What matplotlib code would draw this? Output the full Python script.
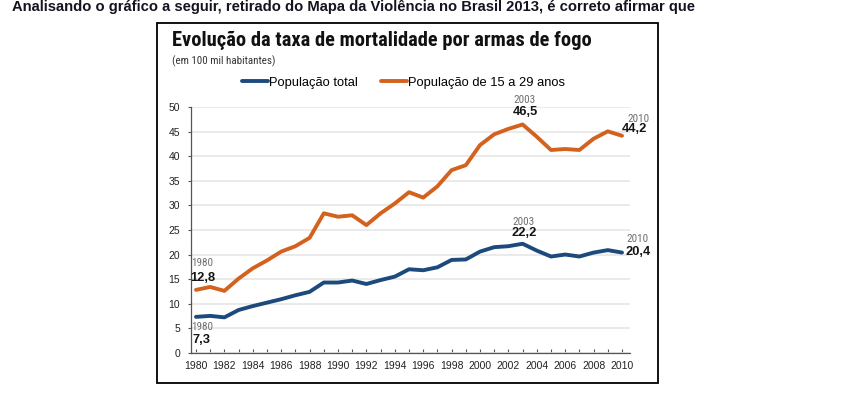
import matplotlib
matplotlib.use("Agg")
import matplotlib.pyplot as plt
from matplotlib import font_manager as fm
from matplotlib.font_manager import FontProperties
from matplotlib.patches import Rectangle

# ---------------- data ----------------
years = list(range(1980, 2011))
total = [7.3, 7.5, 7.2, 8.7, 9.5, 10.2, 10.9, 11.7, 12.4, 14.3, 14.3, 14.7, 14.0,
         14.8, 15.5, 17.0, 16.8, 17.4, 18.9, 19.0, 20.6, 21.5, 21.7, 22.2, 20.8,
         19.6, 20.0, 19.6, 20.4, 20.9, 20.4]
young = [12.8, 13.4, 12.6, 15.1, 17.2, 18.8, 20.6, 21.7, 23.4, 28.4, 27.7, 28.0,
         26.0, 28.4, 30.4, 32.7, 31.6, 33.9, 37.2, 38.2, 42.3, 44.5, 45.6, 46.5,
         44.0, 41.3, 41.5, 41.3, 43.6, 45.1, 44.2]
series_labels = ["População total", "População de 15 a 29 anos"]
highlight_years = [1980, 2003, 2010]
xtick_labels = [str(y) for y in range(1980, 2011, 2)]
yticks = list(range(0, 51, 5))

header = "Analisando o gráfico a seguir, retirado do Mapa da Violência no Brasil 2013, é correto afirmar que"
title = "Evolução da taxa de mortalidade por armas de fogo"
subtitle = "(em 100 mil habitantes)"

# ---------------- fonts ----------------
SANS = "Liberation Sans"


def condensed_font(bold):
    files = [f for f in fm.fontManager.ttflist]
    pref = ["liberation", "roboto", "dejavu", "noto", "open", ""]
    for p in pref:
        for f in files:
            fn = f.fname.lower()
            if p not in fn:
                continue
            if not ("narrow" in fn or "condensed" in fn or f.stretch in ("condensed", "semi-condensed")):
                continue
            if "italic" in fn or "oblique" in fn:
                continue
            isbold = ("bold" in fn) and ("semibold" not in fn)
            if isbold == bold:
                return FontProperties(fname=f.fname)
    return None


COND_B = condensed_font(True)
COND_R = condensed_font(False)
if COND_B is None:
    COND_B = FontProperties(family=SANS, weight="bold")
if COND_R is None:
    COND_R = FontProperties(family=SANS)

W, H = 850, 394
fig = plt.figure(figsize=(W / 100, H / 100), dpi=100)
fig.patch.set_facecolor("white")
renderer = fig.canvas.get_renderer()


def fx(px):
    return px / W


def fy(py):
    return 1 - py / H


def fit_width(t, target):
    for _ in range(3):
        w = t.get_window_extent(renderer).width
        t.set_fontsize(t.get_fontsize() * target / w)


BLUE = "#1d4a7c"
ORANGE = "#d4621f"

# header text
t = fig.text(fx(12), fy(10.5), header, family=SANS, weight="bold", fontsize=9,
             color="#141420", ha="left", va="baseline")
fit_width(t, 683)

# bordered box
fig.patches.append(Rectangle((fx(157), fy(383)), fx(658) - fx(157), fy(22.7) - fy(383),
                             transform=fig.transFigure, fill=False, edgecolor="black",
                             linewidth=1.3, zorder=0))

# title / subtitle
t = fig.text(fx(172.5), fy(46.5), title, fontproperties=COND_B.copy(),
             color="#111111", ha="left", va="baseline")
fit_width(t, 419)
t = fig.text(fx(172.5), fy(64), subtitle, fontproperties=COND_R.copy(), color="#333333",
             ha="left", va="baseline")
fit_width(t, 104)

# axes
x0, x1 = 1979.627, 2010.563
ax_left, ax_right = 190.7, 630
ax_bottom, ax_top = 352.7, 107.3
ax = fig.add_axes([fx(ax_left), fy(ax_bottom), fx(ax_right) - fx(ax_left),
                   fy(ax_top) - fy(ax_bottom)])
ax.set_facecolor("none")
ax.set_xlim(x0, x1)
ax.set_ylim(0, 50)

l_total, = ax.plot(years, total, color=BLUE, lw=2.8, solid_joinstyle="round",
                   solid_capstyle="round", label=series_labels[0], zorder=3, clip_on=False)
l_young, = ax.plot(years, young, color=ORANGE, lw=2.8, solid_joinstyle="round",
                   solid_capstyle="round", label=series_labels[1], zorder=3, clip_on=False)

for s in ["top", "right"]:
    ax.spines[s].set_visible(False)
for s in ["left", "bottom"]:
    ax.spines[s].set_color("#555555")
    ax.spines[s].set_linewidth(0.9)

ax.set_yticks(yticks)
ax.set_yticklabels([str(v) for v in yticks], family=SANS, fontsize=7.5, color="#222222")
ax.tick_params(axis="y", direction="out", length=2.5, width=0.8, color="#555555", pad=5)
ax.yaxis.grid(True, color="#e6e6e6", lw=1.2)
ax.set_axisbelow(True)

ax.set_xticks(list(range(1980, 2011, 2)))
ax.set_xticklabels(xtick_labels, family=SANS, fontsize=7.5, color="#222222")
ax.set_xticks(list(range(1981, 2011, 2)), minor=True)
ax.tick_params(axis="x", which="both", direction="in", length=3, width=0.8,
               color="#555555", pad=6)

# legend
ax.legend(handles=[l_total, l_young], labels=series_labels, loc="center left",
          bbox_to_anchor=(fx(241.7), fy(83)), bbox_transform=fig.transFigure,
          ncol=2, frameon=False, prop={"family": SANS, "size": 9.3},
          handlelength=2.0, handletextpad=0.1, columnspacing=1.8,
          borderpad=0, borderaxespad=0)

# highlight annotations (offsets in pixels: year label, value label, alignment)
layout = {
    ("young", 1980): ((6, 26.6, "center"), (6.5, 11.6, "center")),
    ("total", 1980): ((6, -10.4, "center"), (6, -23, "center")),
    ("young", 2003): ((2.4, 24.4, "center"), (2.4, 12.7, "center")),
    ("total", 2003): ((1.4, 22.0, "center"), (1.4, 10.7, "center")),
    ("young", 2010): ((5, 16.5, "left"), (0, 6.4, "left")),
    ("total", 2010): ((4.7, 14.0, "left"), (3, 0.3, "left")),
}
data = {"young": young, "total": total}
for key, vals in data.items():
    for yr in highlight_years:
        v = vals[years.index(yr)]
        (yx, yy, yha), (vx, vy, vha) = layout[(key, yr)]
        yfp = COND_R.copy()
        yfp.set_size(8)
        ax.annotate(str(yr), (yr, v), xytext=(yx, yy), textcoords="offset pixels",
                    ha=yha, va="center", fontproperties=yfp, color="#6f6f6f",
                    annotation_clip=False, zorder=5)
        ax.annotate(f"{v:.1f}".replace(".", ","), (yr, v), xytext=(vx, vy),
                    textcoords="offset pixels", ha=vha, va="center", family=SANS,
                    weight="bold", fontsize=9.3, color="#141414",
                    annotation_clip=False, zorder=5)

fig.savefig("out.png", dpi=100)
